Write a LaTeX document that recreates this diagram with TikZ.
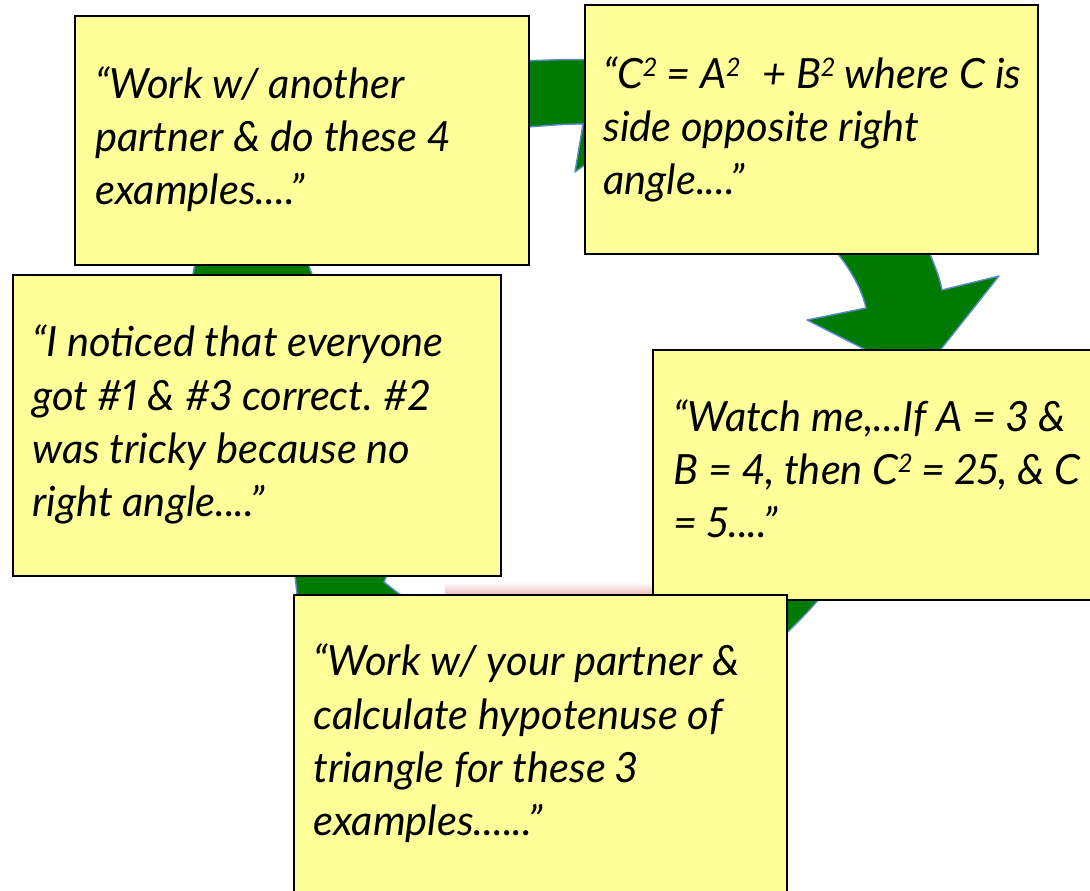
\documentclass[tikz,border=0pt]{standalone}
\usepackage{fontspec}
\setmainfont{Lato}[Numbers=Proportional]
\usetikzlibrary{positioning}
\definecolor{noteyellow}{HTML}{FFFF99}
\definecolor{cyclegreen}{HTML}{007A00}
\definecolor{edgeblue}{HTML}{5B8BC9}
\definecolor{glowpink}{HTML}{EDC0C0}
\newcommand{\supTwo}{\raisebox{0.55ex}{\fontsize{14.5}{14.5}\selectfont 2}}
\frenchspacing

\begin{document}
\begin{tikzpicture}[x=0.02cm, y=-0.02cm,
  note/.style={rectangle, draw=black, fill=noteyellow, line width=1.1pt,
               anchor=north west, inner sep=0pt},
  txt/.style={anchor=base west, inner sep=0pt, align=left,
              font=\fontsize{23.7}{30.4}\selectfont\itshape},
  cyc/.style={fill=cyclegreen, draw=edgeblue, line width=0.8pt, line join=round}
]
\useasboundingbox (0,0) rectangle (1090,891);
\clip (0,0) rectangle (1090,891);

% cycle arrows, mostly hidden under the notes
\filldraw[cyc] (440,72) .. controls (480,64) and (500,61) .. (528,60.7)
  .. controls (550,60) and (570,59) .. (594,60) -- (602,10) -- (669,104)
  -- (575,172) -- (583,124) .. controls (560,124) and (545,126) .. (527,127)
  .. controls (500,128) and (470,132) .. (445,138) -- cycle;
\filldraw[cyc] (810,200) .. controls (825,225) and (832,240) .. (838,254)
  .. controls (852,272) and (862,290) .. (866,308) -- (807,320) -- (919,377)
  -- (999,276) -- (942,290) .. controls (940,278) and (934,264) .. (930,254)
  .. controls (925,240) and (918,220) .. (912,200) -- cycle;
\filldraw[cyc] (860,548) .. controls (845,568) and (832,584) .. (819,599)
  .. controls (809,611) and (798,622) .. (788,632) -- (740,680) -- (750,730)
  -- (640,700) -- (680,580) -- (700,610) -- (760,560) -- (800,512) -- cycle;
\filldraw[cyc] (400,540) -- (287,500) -- (295,575) -- (297,594) -- (307,690)
  -- (360,655) -- (470,700) -- (500,628) .. controls (450,612) and (415,603) .. (398,593)
  -- (384,582) -- (387,575) -- cycle;
\filldraw[cyc] (245,150) -- (200,240) -- (195,264) -- (193,274) -- (185,320)
  -- (212,315) -- (230,420) -- (300,420) -- (292,312) -- (335,330)
  -- (312,274) -- (308,264) -- (300,245) -- cycle;

% faint glow between the lower notes
\shade[top color=white, bottom color=glowpink] (445,582) rectangle (652,594);

% notes
\node[note, minimum width=9.08cm, minimum height=4.98cm] (partner) at (74,15) {};
\node[note, minimum width=9.06cm, minimum height=4.98cm] (pyth) at (584,4) {};
\node[note, minimum width=9.76cm, minimum height=6.02cm] (notice) at (12,274) {};
\node[note, minimum width=9.2cm, minimum height=5.0cm] (watch) at (652,349) {};
\node[note, minimum width=9.86cm, minimum height=6.2cm] (calc) at (293,594) {};

% text (base = last line)
\node[txt] (partner-t) at (95,205) {“Work w/ another\\partner \& do these 4\\examples....”};
\node[txt] (pyth-t) at (603,195) {“C\supTwo{} = A\supTwo\hspace{0.3em} + B\supTwo{} where C is\\side opposite right\\angle....”};
\node[txt] (notice-t) at (32,517) {“I noticed that everyone\\got \#1 \& \#3 correct. \#2\\was tricky because no\\right angle....”};
\node[txt] (watch-t) at (673,538) {“Watch me,...If A = 3 \&\\B = 4, then C\supTwo{} = 25, \& C\\= 5....”};
\node[txt] (calc-t) at (313,836) {“Work w/ your partner \&\\calculate hypotenuse of\\triangle for these 3\\examples......”};
\end{tikzpicture}
\end{document}
